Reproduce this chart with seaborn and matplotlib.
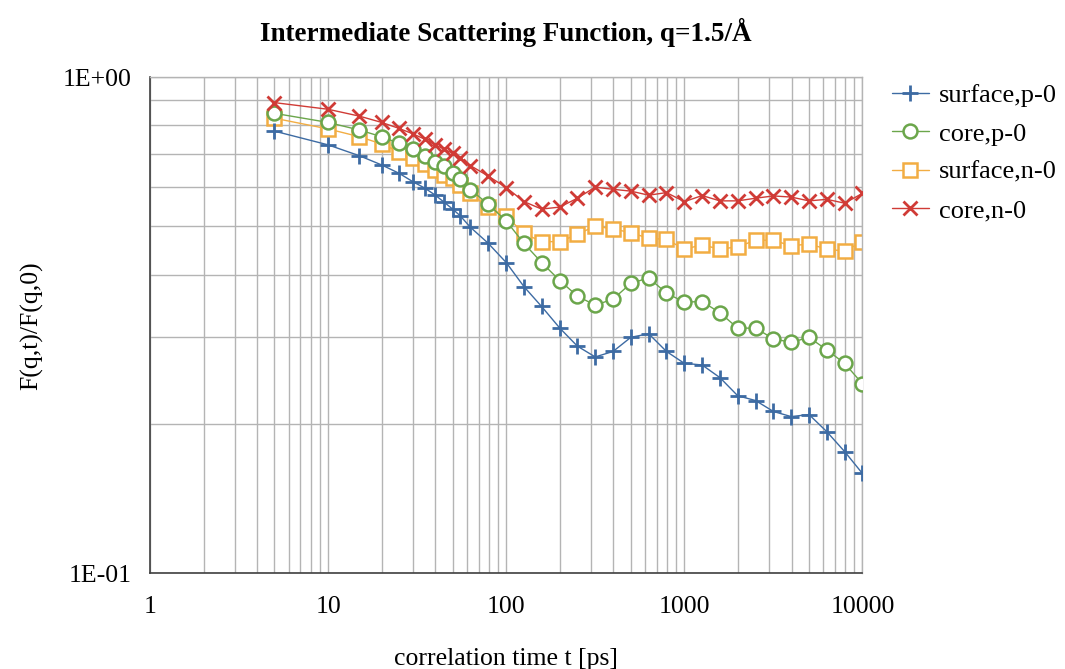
import numpy as np
import pandas as pd
import matplotlib
matplotlib.use("Agg")
import matplotlib.pyplot as plt
import seaborn as sns
from matplotlib.ticker import LogLocator, NullFormatter, FixedLocator, FixedFormatter

# correlation times [ps]
t_ps = [5, 10, 15, 20, 25, 30, 35, 40, 45, 50, 55, 63, 79,
        100, 126, 158, 200, 251, 316, 398, 501, 631, 794,
        1000, 1259, 1585, 1995, 2512, 3162, 3981, 5012, 6310, 7943, 10000]

surface_p0 = [0.778, 0.730, 0.694, 0.665, 0.640, 0.615, 0.597, 0.578, 0.559, 0.542, 0.526, 0.498, 0.463,
              0.423, 0.378, 0.345, 0.312, 0.287, 0.273, 0.280, 0.299, 0.304, 0.280,
              0.265, 0.263, 0.248, 0.228, 0.223, 0.212, 0.207, 0.209, 0.193, 0.176, 0.159]

core_p0 = [0.845, 0.810, 0.782, 0.758, 0.735, 0.715, 0.694, 0.675, 0.662, 0.642, 0.623, 0.593, 0.555,
           0.513, 0.462, 0.423, 0.389, 0.362, 0.347, 0.357, 0.384, 0.394, 0.367,
           0.352, 0.353, 0.335, 0.312, 0.312, 0.297, 0.292, 0.299, 0.282, 0.265, 0.241]

surface_n0 = [0.826, 0.786, 0.758, 0.733, 0.707, 0.686, 0.667, 0.650, 0.636, 0.625, 0.606, 0.583, 0.546,
              0.524, 0.484, 0.466, 0.466, 0.482, 0.501, 0.494, 0.486, 0.473, 0.471,
              0.450, 0.459, 0.450, 0.455, 0.469, 0.469, 0.457, 0.461, 0.450, 0.446, 0.466]

core_n0 = [0.888, 0.861, 0.834, 0.810, 0.788, 0.768, 0.749, 0.730, 0.715, 0.702, 0.688, 0.663, 0.632,
           0.599, 0.561, 0.542, 0.547, 0.570, 0.600, 0.594, 0.589, 0.578, 0.585,
           0.561, 0.577, 0.563, 0.563, 0.570, 0.576, 0.573, 0.563, 0.567, 0.557, 0.583]

series_names = ["surface,p-0", "core,p-0", "surface,n-0", "core,n-0"]
series_values = [surface_p0, core_p0, surface_n0, core_n0]

x_ticks = [1, 10, 100, 1000, 10000]
x_tick_labels = ["1", "10", "100", "1000", "10000"]
y_ticks = [0.1, 1.0]
y_tick_labels = ["1E-01", "1E+00"]

colors = ["#3D6BA3", "#6BA64B", "#F2AD43", "#D03B36"]
styles = [
    dict(marker="+", markersize=12, markeredgewidth=2.0, fillstyle="full"),
    dict(marker="o", markersize=10, markeredgewidth=1.8, markerfacecolor="white"),
    dict(marker="s", markersize=10, markeredgewidth=1.8, markerfacecolor="white"),
    dict(marker="x", markersize=10, markeredgewidth=2.0, fillstyle="full"),
]
layer = [4, 3, 2, 5]

sns.set_theme(style="white")
plt.rcParams["font.family"] = ["Liberation Serif", "DejaVu Serif"]
plt.rcParams["text.color"] = "black"
plt.rcParams["axes.labelcolor"] = "black"

fig = plt.figure(figsize=(10.65, 6.69), dpi=100)
ax = fig.add_axes([0.1408, 0.1428, 0.669, 0.7421])

df = pd.DataFrame({
    "t": np.tile(t_ps, len(series_names)),
    "F": np.concatenate(series_values),
    "series": np.repeat(series_names, len(t_ps)),
})

for name, col, st, z in zip(series_names, colors, styles, layer):
    sub = df[df["series"] == name]
    sns.lineplot(data=sub, x="t", y="F", ax=ax, color=col, linewidth=1.0,
                 markeredgecolor=col, label=name, zorder=z, **st)

ax.set_xscale("log")
ax.set_yscale("log")
ax.set_xlim(1, 10000)
ax.set_ylim(0.1, 1.0)

# gridlines at every minor step, Excel-like
ax.xaxis.set_major_locator(FixedLocator(x_ticks))
ax.xaxis.set_major_formatter(FixedFormatter(x_tick_labels))
ax.xaxis.set_minor_locator(LogLocator(base=10, subs=np.arange(2, 10)))
ax.xaxis.set_minor_formatter(NullFormatter())
ax.yaxis.set_major_locator(FixedLocator(y_ticks))
ax.yaxis.set_major_formatter(FixedFormatter(y_tick_labels))
ax.yaxis.set_minor_locator(LogLocator(base=10, subs=np.arange(2, 10)))
ax.yaxis.set_minor_formatter(NullFormatter())
ax.grid(True, which="both", color="#b4b4b4", linewidth=1.0)
ax.set_axisbelow(True)

ax.tick_params(axis="both", which="both", length=0, labelsize=18.5, colors="black")
ax.tick_params(axis="x", pad=16)
ax.tick_params(axis="y", pad=13)
for side in ["top", "right"]:
    ax.spines[side].set_color("#b4b4b4")
    ax.spines[side].set_linewidth(1.0)
for side in ["left", "bottom"]:
    ax.spines[side].set_color("#404040")
    ax.spines[side].set_linewidth(1.2)

ax.set_xlabel("correlation time t [ps]", fontsize=18.5, labelpad=22, color="black")
ax.set_ylabel("F(q,t)/F(q,0)", fontsize=18.5, labelpad=14, color="black")
ax.set_title("Intermediate Scattering Function, q=1.5/Å", fontsize=19.5,
             fontweight="bold", pad=26, color="black")

leg = ax.legend(loc="upper left", bbox_to_anchor=(1.0078, 1.034), frameon=False,
                fontsize=19, handlelength=1.4, labelspacing=0.56, handletextpad=0.38,
                labelcolor="black")

fig.savefig("out.png", dpi=100)
